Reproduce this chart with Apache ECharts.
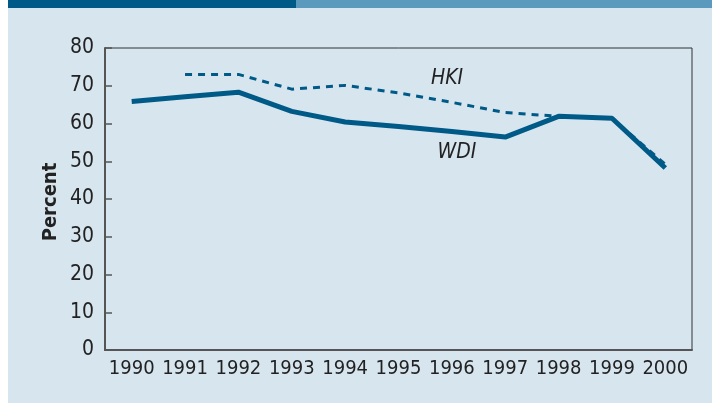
<!DOCTYPE html>
<html>
<head>
<meta charset="utf-8">
<script src="https://cdn.jsdelivr.net/npm/echarts@6/dist/echarts.min.js"></script>
<style>
html,body{margin:0;padding:0;background:#ffffff;}
#c{width:712px;height:403px;}
</style>
</head>
<body>
<div id="c"></div>
<script>
const years = ['1990','1991','1992','1993','1994','1995','1996','1997','1998','1999','2000'];
const wdi = [65.8, 67.1, 68.3, 63.2, 60.4, 59.2, 57.9, 56.4, 61.9, 61.4, 48.2];
const hki = [null, 73.0, 73.0, 69.1, 70.1, 68.1, 65.6, 62.9, 61.9, 61.4, 49.2];
const yTicks = [0, 10, 20, 30, 40, 50, 60, 70, 80];

const FONT = "'Liberation Sans Narrow', 'DejaVu Sans Condensed', sans-serif";
const BLUE = '#005a87';

const chart = echarts.init(document.getElementById('c'), null, {renderer: 'canvas'});
chart.setOption({
  backgroundColor: '#ffffff',
  animation: false,
  textStyle: {fontFamily: FONT},
  graphic: [
    {type: 'rect', z: -10, shape: {x: 8, y: 0, width: 704, height: 403}, style: {fill: '#d7e5ef'}},
    {type: 'rect', z: -5, shape: {x: 8, y: 0, width: 288, height: 8}, style: {fill: '#005a87'}},
    {type: 'rect', z: -5, shape: {x: 296, y: 0, width: 416, height: 8}, style: {fill: '#5b9abd'}},
    {type: 'text', x: 51, y: 202, rotation: Math.PI / 2,
      style: {text: 'Percent', font: "bold 20px " + FONT, fill: '#222222', textAlign: 'center', textVerticalAlign: 'middle'}},
    {type: 'text', x: 447, y: 79,
      style: {text: 'HKI', font: "italic 21px " + FONT, fill: '#222222', textAlign: 'center', textVerticalAlign: 'middle'}},
    {type: 'text', x: 457, y: 153,
      style: {text: 'WDI', font: "italic 21px " + FONT, fill: '#222222', textAlign: 'center', textVerticalAlign: 'middle'}}
  ],
  grid: {left: 105, top: 48, right: 20, bottom: 53, show: true, borderColor: '#333333', borderWidth: 1, backgroundColor: 'transparent'},
  xAxis: {
    type: 'category',
    data: years,
    boundaryGap: true,
    axisLine: {lineStyle: {color: '#555555', width: 2}},
    axisTick: {alignWithLabel: true, inside: true, length: 7, interval: 0, lineStyle: {color: '#555555', width: 1.5}},
    axisLabel: {color: '#222222', fontSize: 20, fontFamily: FONT, margin: 9, interval: 0},
    splitLine: {show: false}
  },
  yAxis: {
    type: 'value',
    min: 0, max: 80, interval: 10,
    axisLine: {show: true, lineStyle: {color: '#555555', width: 2}},
    axisTick: {show: true, inside: true, length: 7, lineStyle: {color: '#555555', width: 1.5}},
    axisLabel: {color: '#222222', fontSize: 21, fontFamily: FONT, margin: 11,
      formatter: v => yTicks.indexOf(v) >= 0 ? String(v) : ''},
    splitLine: {show: false}
  },
  series: [
    {name: 'HKI', type: 'line', data: hki, symbol: 'none', connectNulls: false,
      lineStyle: {color: BLUE, width: 3, type: [7, 6]}, z: 3},
    {name: 'WDI', type: 'line', data: wdi, symbol: 'none',
      lineStyle: {color: BLUE, width: 5}, z: 4}
  ]
});
</script>
</body>
</html>
